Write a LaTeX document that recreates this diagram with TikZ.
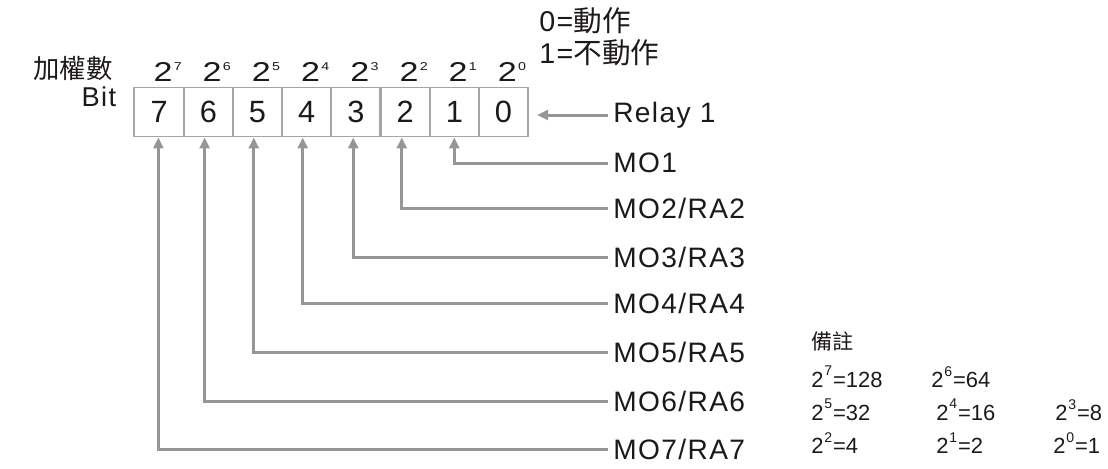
\documentclass[tikz,border=0pt]{standalone}
\usepackage{fontspec}
\setmainfont{Liberation Sans}
\newfontfamily\cjk{Noto Sans CJK TC}
\newfontfamily\widefont[LetterSpace=5]{Liberation Sans}
\usetikzlibrary{arrows.meta,positioning}
\definecolor{linegray}{RGB}{150,150,150}
\definecolor{boxgray}{RGB}{165,165,165}
\definecolor{inkblack}{RGB}{30,25,25}
\newcommand{\pw}[1]{\scalebox{1.25}[1]{2\kern0.6pt\raisebox{6.4pt}{\fontsize{6.5}{7}\selectfont #1}}}
\newcommand{\npw}[1]{2\kern0.5pt\raisebox{1.0ex}{\fontsize{8}{9}\selectfont #1}\kern0.5pt}

\begin{document}
\begin{tikzpicture}[x=0.02cm, y=-0.02cm,
    every node/.style={text=inkblack, inner sep=0pt},
    cell/.style={draw=boxgray, line width=1.1pt, minimum width=0.988cm,
      minimum height=0.98cm, font=\fontsize{17.5}{20}\selectfont},
    powlbl/.style={anchor=base, font=\fontsize{15.5}{18}\selectfont},
    outlbl/.style={anchor=west, inner xsep=2.8pt, font=\widefont\fontsize{16}{18}\selectfont},
    notelbl/.style={anchor=west, font=\fontsize{12.5}{14}\selectfont},
    conn/.style={draw=linegray, line width=1.7pt,
      -{Triangle[length=0.22cm, width=0.2cm]}}]
  \useasboundingbox (0,0) rectangle (1108,468);
  % bit cells and weights
  \foreach \i in {0,...,7} {
    \node[cell] (b\i) at ({503.5-49.2*\i},112) {\i};
    \node[powlbl] (p\i) at ({512-49.2*\i},81.7) {\pw{\i}};
  }
  \node[font=\widefont\fontsize{15.5}{18}\selectfont] (bit) at (99,97) {Bit};
  \node[font=\cjk\fontsize{15}{17}\selectfont] (weight) at (73,68) {加權數};
  \node[anchor=west, font=\widefont\fontsize{16.3}{18}\selectfont] (on) at (539,21) {0=\cjk 動作};
  \node[anchor=west, font=\widefont\fontsize{16.3}{18}\selectfont] (off) at (539,53) {1=\cjk 不動作};
  % outputs
  \node[outlbl] (relay) at (608,115) {Relay 1};
  \node[outlbl] (mo1) at (608,163) {MO1};
  \node[outlbl] (mo2) at (608,208) {MO2/RA2};
  \node[outlbl] (mo3) at (608,257) {MO3/RA3};
  \node[outlbl] (mo4) at (608,303) {MO4/RA4};
  \node[outlbl] (mo5) at (608,352) {MO5/RA5};
  \node[outlbl] (mo6) at (608,401) {MO6/RA6};
  \node[outlbl] (mo7) at (608,449) {MO7/RA7};
  \draw[conn, shorten >=0.16cm] (relay.west) -- (relay.west -| b0.east);
  \foreach \i/\dx in {1/0, 2/-3.3, 3/-2.7, 4/-4, 5/-3.7, 6/-3.7, 7/-0.7}
    \draw[conn] (mo\i.west) -| ([xshift=\dx*0.02cm]b\i.south);
  % note
  \node[anchor=west, font=\cjk\fontsize{12}{14}\selectfont] (note) at (811,342) {備註};
  \node[notelbl] (n7) at (811,377) {\npw{7}=128};
  \node[notelbl] (n6) at (931,377) {\npw{6}=64};
  \node[notelbl] (n5) at (811,410) {\npw{5}=32};
  \node[notelbl] (n4) at (936,410) {\npw{4}=16};
  \node[notelbl] (n3) at (1055,410) {\npw{3}=8};
  \node[notelbl] (n2) at (811,443) {\npw{2}=4};
  \node[notelbl] (n1) at (936,443) {\npw{1}=2};
  \node[notelbl] (n0) at (1053,443) {\npw{0}=1};
\end{tikzpicture}
\end{document}
